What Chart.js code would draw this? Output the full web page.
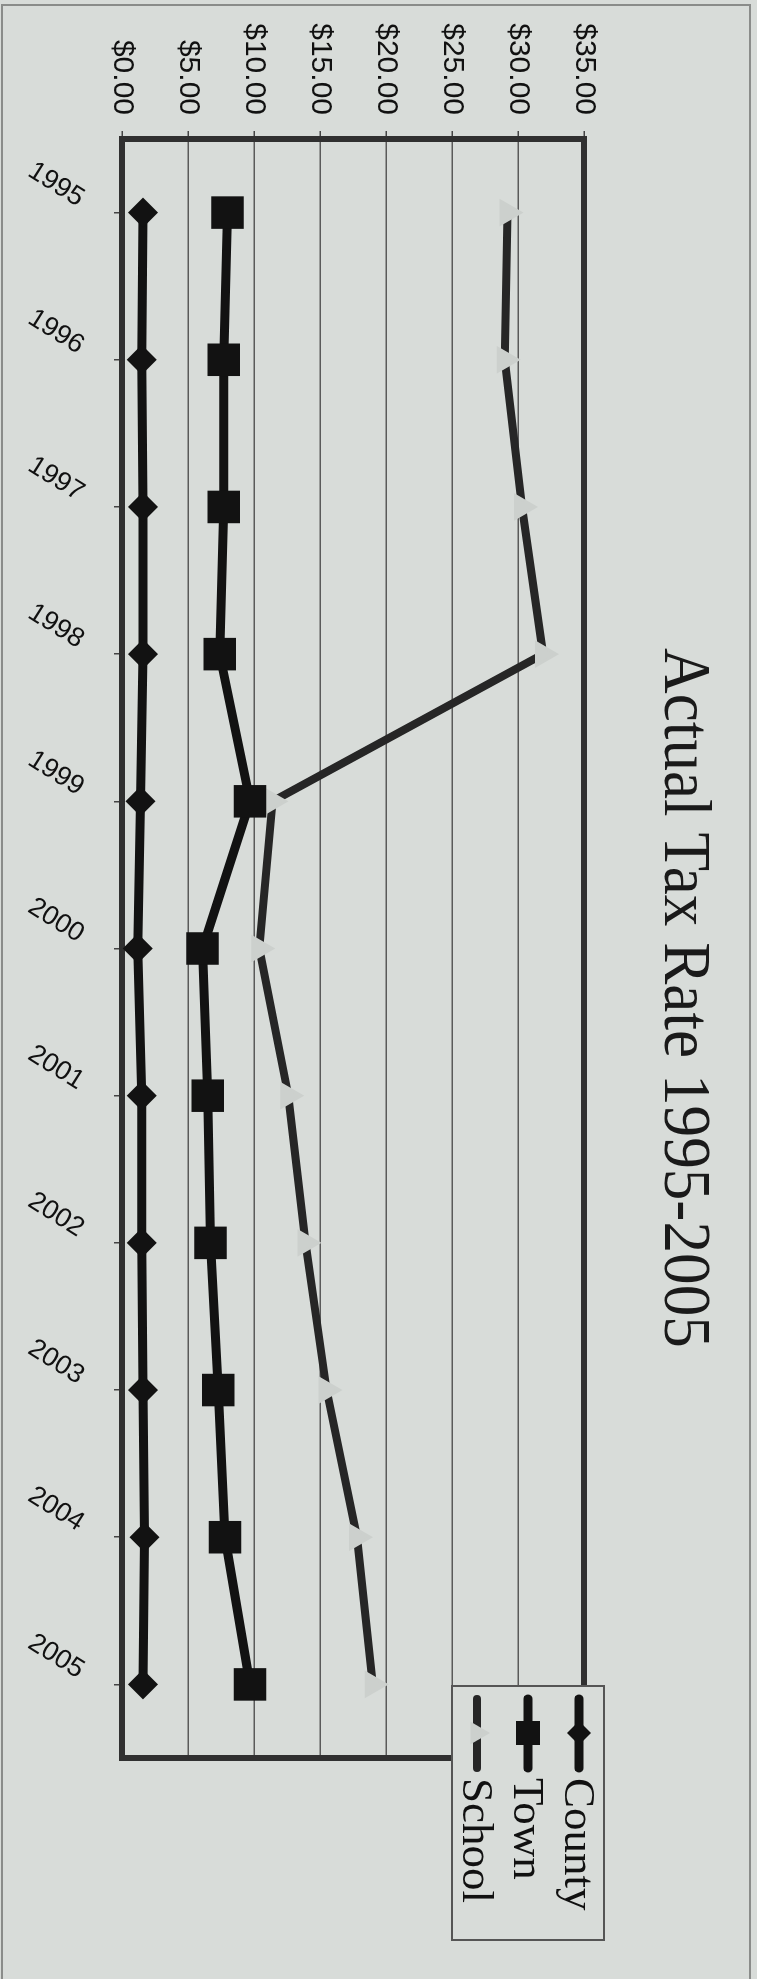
<!DOCTYPE html>
<html>
<head>
<meta charset="utf-8">
<title>Actual Tax Rate 1995-2005</title>
<script src="https://cdn.jsdelivr.net/npm/chart.js@4.4.1/dist/chart.umd.min.js"></script>
<style>
  html, body { margin: 0; padding: 0; background: #d8dcd9; overflow: hidden; }
  /* the chart is drawn landscape and turned a quarter turn clockwise */
  #wrap {
    position: absolute; left: 0; top: 0;
    width: 1979px; height: 757px;
    transform-origin: 0 0;
    transform: translate(757px, 0) rotate(90deg);
  }
  #taxChart { width: 1979px; height: 757px; }
</style>
</head>
<body>
<div id="wrap"><canvas id="taxChart" width="1979" height="757"></canvas></div>
<script>
const chartTitle = 'Actual Tax Rate 1995-2005';
const years = ['1995', '1996', '1997', '1998', '1999', '2000', '2001', '2002', '2003', '2004', '2005'];
const countyRates = [1.6, 1.5, 1.6, 1.6, 1.4, 1.2, 1.5, 1.5, 1.6, 1.7, 1.6];
const townRates = [8.0, 7.7, 7.7, 7.4, 9.7, 6.1, 6.5, 6.7, 7.3, 7.8, 9.7];
const schoolRates = [29.2, 29.0, 30.3, 31.9, 11.4, 10.4, 12.6, 13.9, 15.5, 17.8, 19.0];
const rateTickLabels = ['$0.00', '$5.00', '$10.00', '$15.00', '$20.00', '$25.00', '$30.00', '$35.00'];

const bgColor = '#d8dcd9';
const sansFont = '"Liberation Sans", Arial, sans-serif';
const serifFont = '"Liberation Serif", "Times New Roman", serif';

function drawMarker(ctx, style, x, y, r, color) {
    ctx.fillStyle = color;
    ctx.beginPath();
    if (style === 'rectRot') {
        ctx.moveTo(x, y - r);
        ctx.lineTo(x + r, y);
        ctx.lineTo(x, y + r);
        ctx.lineTo(x - r, y);
    } else if (style === 'rect') {
        ctx.rect(x - r, y - r, 2 * r, 2 * r);
    } else {
        ctx.moveTo(x, y - r);
        ctx.lineTo(x + r * 0.87, y + r * 0.5);
        ctx.lineTo(x - r * 0.87, y + r * 0.5);
    }
    ctx.closePath();
    ctx.fill();
}

const framePlugin = {
    id: 'frame',
    beforeDraw(chart) {
        const ctx = chart.ctx;
        ctx.save();
        ctx.fillStyle = bgColor;
        ctx.fillRect(0, 0, chart.width, chart.height);
        ctx.strokeStyle = '#8a8c8a';
        ctx.lineWidth = 2;
        ctx.strokeRect(5, 7, chart.width + 20, 748);
        ctx.restore();
    },
    beforeDatasetsDraw(chart) {
        const { ctx, chartArea: a } = chart;
        ctx.save();
        ctx.strokeStyle = '#303030';
        ctx.lineWidth = 6;
        ctx.strokeRect(a.left, a.top, a.right - a.left, a.bottom - a.top);
        ctx.restore();
    }
};

const titleLegendPlugin = {
    id: 'titleLegend',
    afterDraw(chart) {
        const ctx = chart.ctx;

        // title, a little condensed like the original
        ctx.save();
        ctx.font = '68px ' + serifFont;
        ctx.fillStyle = '#1a1a1a';
        ctx.textAlign = 'center';
        ctx.textBaseline = 'alphabetic';
        ctx.translate(998, 92);
        ctx.scale(0.93, 1);
        ctx.fillText(chartTitle, 0, 0);
        ctx.restore();

        // legend box overlapping the plot corner
        ctx.save();
        ctx.fillStyle = bgColor;
        ctx.fillRect(1686, 153, 254, 152);
        ctx.strokeStyle = '#555';
        ctx.lineWidth = 2;
        ctx.strokeRect(1686, 153, 254, 152);

        chart.data.datasets.forEach((ds, i) => {
            const cy = 178 + i * 51;
            ctx.strokeStyle = ds.borderColor;
            ctx.lineWidth = ds.borderWidth;
            ctx.lineCap = 'round';
            ctx.beginPath();
            ctx.moveTo(1699, cy);
            ctx.lineTo(1768, cy);
            ctx.stroke();
            drawMarker(ctx, ds.pointStyle, 1733, cy, ds.pointStyle === 'triangle' ? 13 : 12, ds.pointBackgroundColor);

            ctx.fillStyle = '#111';
            ctx.font = '45px ' + serifFont;
            ctx.textAlign = 'left';
            ctx.textBaseline = 'middle';
            ctx.fillText(ds.label, 1778, cy + 2);
        });
        ctx.restore();
    }
};

new Chart(document.getElementById('taxChart'), {
    type: 'line',
    data: {
        labels: years,
        datasets: [
            {
                label: 'County',
                data: countyRates,
                borderColor: '#121212',
                borderWidth: 9,
                pointStyle: 'rectRot',
                pointRadius: 15,
                pointBackgroundColor: '#121212',
                pointBorderWidth: 0
            },
            {
                label: 'Town',
                data: townRates,
                borderColor: '#121212',
                borderWidth: 9,
                pointStyle: 'rect',
                pointRadius: 23,
                pointBackgroundColor: '#121212',
                pointBorderWidth: 0
            },
            {
                label: 'School',
                data: schoolRates,
                borderColor: '#262626',
                borderWidth: 8,
                pointStyle: 'triangle',
                pointRadius: 13,
                pointBackgroundColor: '#ccd0cd',
                pointBorderColor: '#ccd0cd',
                pointBorderWidth: 3
            }
        ]
    },
    options: {
        responsive: false,
        animation: false,
        layout: { padding: { left: 0, top: 173, right: 221, bottom: 0 } },
        plugins: {
            legend: { display: false },
            title: { display: false },
            tooltip: { enabled: false }
        },
        elements: { line: { tension: 0 } },
        scales: {
            x: {
                offset: true,
                afterFit: scale => { scale.height = 122; },
                border: { display: false },
                grid: {
                    drawOnChartArea: false,
                    drawTicks: true,
                    tickLength: 8,
                    tickColor: '#444',
                    lineWidth: 1.5
                },
                ticks: {
                    autoSkip: false,
                    minRotation: 58,
                    maxRotation: 58,
                    padding: 24,
                    labelOffset: -12,
                    color: '#111',
                    font: { family: sansFont, size: 27 }
                }
            },
            y: {
                min: 0,
                max: 35,
                afterFit: scale => { scale.width = 139; },
                border: { display: false },
                grid: {
                    color: '#5a5a5a',
                    lineWidth: 1.5,
                    tickLength: 8,
                    tickColor: '#444'
                },
                ticks: {
                    stepSize: 5,
                    padding: 16,
                    color: '#111',
                    font: { family: sansFont, size: 30 },
                    callback: (value, index) => rateTickLabels[index]
                }
            }
        }
    },
    plugins: [framePlugin, titleLegendPlugin]
});
</script>
</body>
</html>
